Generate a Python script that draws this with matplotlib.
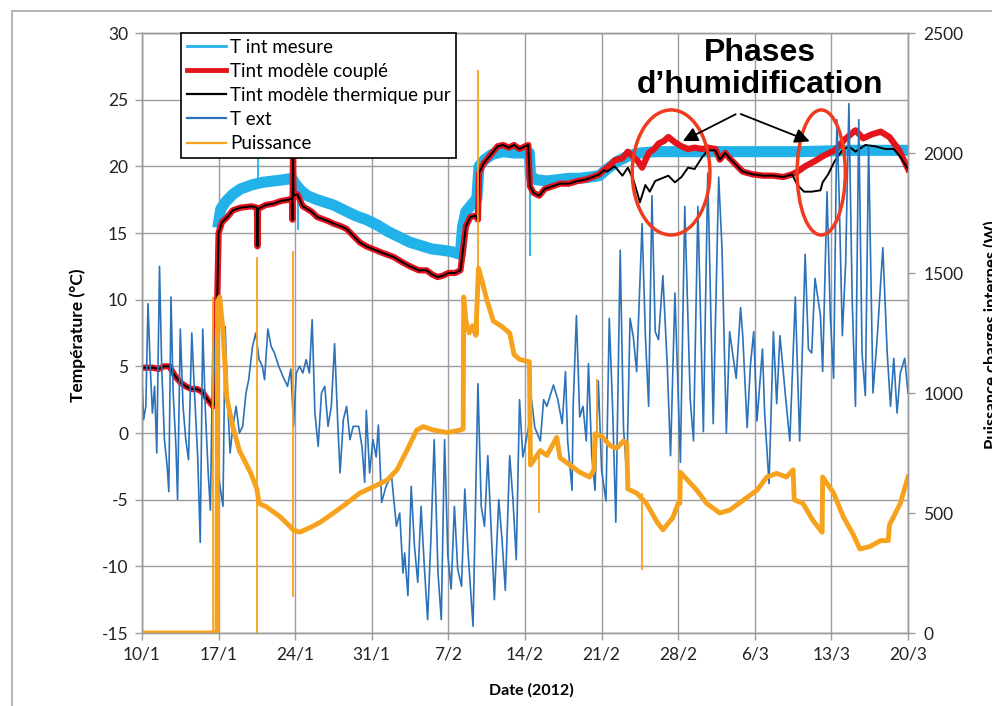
import matplotlib
matplotlib.use("Agg")
import matplotlib.pyplot as plt
from matplotlib.lines import Line2D
from matplotlib.patches import Ellipse, Rectangle

# jours comptés depuis le 10/1/2012
x_ticks = [0, 7, 14, 21, 28, 35, 42, 49, 56, 63, 70]
x_labels = ["10/1", "17/1", "24/1", "31/1", "7/2", "14/2", "21/2", "28/2", "6/3", "13/3", "20/3"]

tint_mesure_j = [7.0, 7.2, 7.6, 8.3, 9.0, 10.0, 11.0, 12.0, 13.0, 13.7, 14.0, 14.5, 15.1, 16.0,
                 17.5, 18.5, 19.5, 20.5, 21.5, 22.5, 23.5, 24.5, 25.7, 26.5, 27.5, 28.3, 29.1,
                 29.3, 29.6, 30.0, 30.6, 30.8, 31.3, 32.0, 33.0, 34.0, 35.0, 35.4, 35.5, 36.0,
                 37.0, 38.0, 39.0, 40.0, 41.0, 41.8, 42.5, 43.5, 44.5, 45.5, 47.0, 50.0, 55.0,
                 60.0, 65.0, 70.0]
tint_mesure = [15.8, 16.8, 17.3, 17.9, 18.3, 18.6, 18.8, 18.9, 19.0, 19.1, 18.7, 18.2, 17.8, 17.5,
               17.1, 16.7, 16.3, 16.0, 15.6, 15.1, 14.7, 14.3, 14.0, 13.8, 13.7, 13.6, 13.4,
               15.5, 16.6, 17.0, 17.6, 20.0, 20.5, 20.9, 21.1, 21.0, 21.0, 21.0, 19.3, 19.0,
               18.9, 19.0, 19.1, 19.1, 19.2, 19.3, 19.8, 20.4, 20.8, 21.0, 21.1, 21.1, 21.1,
               21.1, 21.2, 21.2]
# pics ponctuels de la mesure
tint_pic_j = [10.6, 14.25, 35.45]
tint_pic_bas = [18.6, 15.2, 13.3]
tint_pic_haut = [20.6, 18.4, 21.0]

tint_pur_j = [0.0, 1.0, 1.5, 2.0, 2.5, 3.0, 3.5, 4.0, 4.5, 5.0, 5.5, 6.0, 6.5, 6.7, 6.85, 7.0,
              7.3, 7.8, 8.3, 9.0, 10.0, 10.5, 10.55, 10.6, 11.3, 12.0, 12.7, 13.4, 13.7, 13.75,
              13.8, 13.85, 14.2, 14.7, 15.5, 16.0, 17.0, 17.5, 18.2, 18.7, 19.3, 19.9, 20.5,
              21.1, 22.0, 23.0, 23.8, 24.5, 25.3, 26.0, 26.5, 27.0, 27.5, 28.0, 28.6, 29.1,
              29.3, 29.6, 30.0, 30.5, 30.7, 30.8, 31.2, 31.6, 32.0, 32.5, 33.0, 33.5, 34.0,
              34.5, 35.0, 35.3, 35.45, 35.8, 36.3, 36.8, 37.5, 38.2, 39.0, 39.8, 40.5, 41.2,
              41.8, 42.2, 42.5, 43.2, 43.9, 44.4, 44.9, 45.3, 45.5, 46.0, 46.4, 46.9, 47.5,
              48.1, 48.7, 49.3, 49.9, 50.5, 51.2, 51.7, 52.4, 52.8, 53.3, 53.7, 54.3, 54.9,
              55.8, 56.8, 57.7, 58.6, 59.4, 59.9, 60.5, 61.2, 62.0, 62.2, 62.7, 63.3, 64.0,
              64.6, 65.2, 66.1, 67.0, 67.9, 68.7, 69.3, 70.0]
tint_pur = [4.9, 4.9, 4.8, 5.0, 5.0, 4.3, 3.8, 3.5, 3.3, 3.3, 3.1, 2.5, 2.0, 2.3, 9.0, 15.0,
            15.8, 16.2, 16.7, 16.9, 17.0, 16.9, 14.0, 16.8, 17.1, 17.2, 17.4, 17.5, 17.6, 16.0,
            21.0, 17.8, 17.9, 17.0, 16.6, 16.2, 15.9, 15.7, 15.5, 15.3, 14.8, 14.3, 14.0,
            13.8, 13.5, 13.2, 12.8, 12.5, 12.2, 12.2, 11.9, 11.7, 11.8, 12.0, 12.0, 12.2,
            13.5, 15.5, 16.2, 16.3, 16.0, 19.5, 20.2, 20.6, 21.0, 21.5, 21.6, 21.4, 21.6,
            21.3, 21.5, 21.6, 18.5, 18.0, 17.8, 18.3, 18.5, 18.7, 18.7, 18.9, 19.0, 19.2,
            19.4, 19.7, 19.6, 20.0, 19.3, 19.9, 19.0, 17.9, 17.3, 18.6, 18.1, 18.9, 19.1,
            19.3, 18.8, 19.2, 19.9, 19.8, 20.7, 21.2, 21.2, 20.5, 21.0, 20.6, 20.1, 19.6,
            19.4, 19.3, 19.3, 19.2, 19.4, 18.6, 18.1, 18.1, 18.2, 18.8, 19.4, 20.4, 21.2,
            21.5, 21.1, 21.6, 21.5, 21.3, 21.3, 20.7, 19.8]

tint_couple_j = tint_pur_j[:84] + [42.8, 43.2, 43.9, 44.4, 44.9, 45.3, 45.7, 46.3, 46.8, 47.2,
                                   47.7, 48.1, 48.7, 49.3, 49.9, 50.5, 51.2, 51.7, 52.4, 52.8,
                                   53.3, 53.7, 54.3, 54.9, 55.8, 56.8, 57.7, 58.6, 59.4, 59.9,
                                   60.6, 61.5, 62.3, 63.3, 64.2, 65.2, 65.9, 66.7, 67.5, 68.3,
                                   69.2, 70.0]
tint_couple = tint_pur[:84] + [20.1, 20.45, 20.6, 21.1, 20.7, 20.4, 19.9, 21.0, 21.3, 21.7,
                               21.9, 22.2, 21.8, 21.5, 21.3, 21.4, 21.3, 21.4, 21.3, 20.5,
                               21.0, 20.6, 20.1, 19.6, 19.4, 19.3, 19.3, 19.2, 19.4, 19.6,
                               20.0, 20.4, 20.8, 21.2, 22.0, 22.7, 22.1, 22.4, 22.6, 22.2,
                               21.2, 19.8]

text_j = [0.0, 0.15, 0.35, 0.55, 0.75, 0.95, 1.15, 1.35, 1.6, 1.8, 2.05, 2.3, 2.45, 2.65, 2.85,
          3.1, 3.25, 3.5, 3.75, 4.0, 4.25, 4.55, 4.8, 5.1, 5.32, 5.55, 5.8, 6.05, 6.25, 6.5,
          6.75, 6.95, 7.4, 7.6, 7.85, 8.05, 8.3, 8.6, 8.9, 9.2, 9.5, 9.75, 10.1, 10.4, 10.7,
          11.0, 11.2, 11.5, 11.8, 12.1, 12.5, 12.9, 13.3, 13.6, 13.85, 14.1, 14.4, 14.7, 15.0,
          15.3, 15.55, 15.8, 16.1, 16.4, 16.7, 17.0, 17.3, 17.6, 17.9, 18.1, 18.4, 18.7, 19.0,
          19.3, 19.8, 20.1, 20.35, 20.5, 20.8, 21.1, 21.4, 21.6, 21.9, 22.3, 22.8, 23.25,
          23.55, 23.85, 24.0, 24.3, 24.6, 24.9, 25.2, 25.5, 25.8, 26.1, 26.4, 26.7, 27.05,
          27.35, 27.65, 27.95, 28.25, 28.55, 28.85, 29.2, 29.5, 29.8, 30.25, 30.7, 31.0,
          31.3, 31.6, 32.2, 32.6, 32.9, 33.2, 33.6, 33.9, 34.2, 34.5, 34.8, 35.0, 35.3, 35.6,
          35.9, 36.4, 36.7, 37.0, 37.6, 38.0, 38.4, 38.7, 38.9, 39.3, 39.4, 39.7, 40.0, 40.3,
          40.6, 40.8, 41.1, 41.4, 41.7, 42.0, 42.4, 42.7, 43.0, 43.3, 43.7, 44.0, 44.3, 44.6,
          44.9, 45.2, 45.7, 46.0, 46.3, 46.6, 46.9, 47.2, 47.6, 48.0, 48.3, 48.7, 49.2, 49.6,
          50.1, 50.4, 50.8, 51.3, 51.7, 52.2, 52.7, 53.0, 53.4, 53.7, 54.0, 54.3, 54.7, 54.9,
          55.3, 55.6, 55.9, 56.2, 56.7, 56.9, 57.3, 57.7, 58.0, 58.3, 58.8, 59.2, 59.7, 60.1,
          60.6, 60.9, 61.2, 61.5, 62.0, 62.2, 62.6, 62.9, 63.2, 63.5, 63.7, 64.0, 64.3, 64.6,
          64.9, 65.2, 65.5, 65.8, 66.1, 66.4, 66.8, 67.2, 67.7, 68.1, 68.4, 68.7, 69.0, 69.3,
          69.7, 70.0]
text = [4.0, 1.0, 2.0, 9.7, 5.0, 1.5, 3.5, -1.5, 12.5, 5.0, -0.5, -2.5, -4.4, 10.2, 3.0,
        -1.0, -5.0, 7.8, 2.0, -0.5, -2.0, 7.5, 3.0, -2.0, -8.2, 7.8, 1.5, -3.0, -5.8, 8.0,
        3.0, -3.0, -5.5, 8.0, 2.0, -1.5, 0.5, 2.0, 0.0, 0.5, 3.0, 4.0, 6.5, 7.5, 5.5,
        5.0, 4.0, 7.8, 6.5, 6.0, 5.0, 4.2, 3.5, 4.8, 0.5, 4.5, 5.0, 4.5, 5.5,
        4.5, 8.5, 1.5, -1.0, 3.0, 3.5, 0.5, 2.0, 6.7, 0.5, -3.0, 1.0, 2.0, -0.5,
        0.5, 0.5, -1.0, -3.7, 1.7, -3.0, -0.5, -1.8, 0.6, -5.2, -4.0, -3.2, -7.0,
        -6.0, -10.5, -9.0, -12.2, -4.0, -8.5, -11.2, -5.5, -10.0, -14.0, -8.0, -0.5, -10.5,
        -14.0, -0.5, -9.2, -11.7, -5.5, -10.2, -11.5, -4.2, -9.0, -14.5, 3.7, -5.5,
        -7.0, -1.7, -12.5, -5.0, -8.0, -11.8, -1.7, -5.0, -9.5, 2.5, -1.8, -1.0, 0.3, 2.5,
        0.4, -0.6, 2.5, 2.0, 3.6, 2.5, 0.7, 4.6, -0.6, -4.3, 2.0, 8.8, 1.2, 2.0,
        -0.6, 5.2, -1.7, -4.3, 3.9, -2.8, -5.1, 8.6, 2.0, -6.7, 13.7, 0.4, -3.2, 8.6,
        7.2, 4.6, 15.7, 7.3, 2.0, 17.8, 7.6, 7.0, 11.8, 5.1, -1.7, 10.5, -2.2, 17.0,
        2.5, -0.6, 17.0, 0.1, 19.5, 0.7, 19.2, 13.9, 0.0, 7.6, 5.8, 4.1, 9.4, 7.3,
        0.4, 5.1, 7.6, 0.9, 6.3, 1.5, -3.8, 7.6, 2.2, 7.3, 2.8, -0.6, 10.2, -0.6,
        13.4, 6.3, 6.0, 11.6, 8.8, 4.6, 18.1, 8.8, 4.1, 23.5, 18.0, 7.3, 12.7, 24.7,
        10.0, 2.0, 23.5, 6.0, 2.8, 21.5, 3.0, 7.3, 13.9, 6.0, 2.0, 5.6, 1.5, 4.5,
        5.6, 3.0]

puissance_j = [0.0, 6.85, 6.9, 7.1, 7.4, 7.75, 8.3, 8.9, 9.9, 10.5, 10.7, 11.4, 12.6, 13.5,
               13.8, 14.4, 15.4, 16.3, 17.5, 18.7, 19.9, 21.1, 22.4, 23.3, 24.2, 25.1, 25.7,
               26.6, 27.9, 29.1, 29.35, 29.4, 29.6, 29.9, 30.2, 30.5, 30.6, 30.75, 31.0, 31.5,
               32.1, 32.8, 33.6, 34.0, 34.5, 35.4, 35.5, 35.8, 36.4, 37.0, 37.9, 38.2, 39.1,
               40.0, 40.9, 41.3, 41.4, 42.0, 42.8, 43.4, 44.0, 44.3, 44.4, 45.2, 46.1, 47.1,
               47.6, 48.5, 49.0, 49.15, 49.2, 49.8, 50.7, 51.6, 52.8, 53.7, 55.0, 56.2, 57.1,
               58.0, 58.9, 59.5, 59.6, 60.4, 61.3, 62.15, 62.2, 63.2, 64.1, 65.0, 65.6, 66.5,
               67.5, 68.2, 68.3, 69.3, 70.0]
puissance = [0, 0, 1380, 1400, 1260, 980, 860, 760, 670, 600, 540, 525, 485, 445,
             430, 420, 440, 462, 500, 540, 583, 608, 637, 680, 760, 845, 860,
             846, 835, 846, 850, 1400, 1300, 1250, 1280, 1240, 1350, 1520, 1480, 1390,
             1300, 1280, 1250, 1160, 1140, 1130, 700, 720, 760, 740, 815, 730, 700,
             670, 650, 680, 830, 820, 780, 770, 800, 790, 600, 583, 540, 460,
             430, 480, 540, 540, 670, 640, 595, 540, 500, 512, 555, 595, 650,
             665, 650, 680, 555, 540, 470, 420, 650, 583, 483, 410, 350, 360,
             385, 385, 450, 540, 650]
# pics brefs de la puissance
pic_j = [6.5, 6.8, 10.55, 13.8, 30.7, 36.3, 41.6, 45.7]
pic_bas = [0, 0, 0, 150, 1240, 500, 830, 262]
pic_haut = [1400, 1350, 1565, 1590, 2345, 760, 1060, 583]

c_mesure = "#22B2EA"
c_couple = "#E3141C"
c_pur = "#000000"
c_ext = "#2C72BA"
c_puiss = "#F7A21C"
c_grid = "#9C9C9C"

plt.rcParams["font.family"] = ["Lato", "DejaVu Sans"]
plt.rcParams["axes.unicode_minus"] = False

fig = plt.figure(figsize=(9.92, 7.06), dpi=100)
ax = fig.add_axes([142 / 992, 1 - 633 / 706, 766 / 992, 600 / 706])
ax2 = ax.twinx()

ax.plot(tint_mesure_j, tint_mesure, color=c_mesure, lw=8, solid_joinstyle="round", zorder=2)
ax.vlines(tint_pic_j, tint_pic_bas, tint_pic_haut, color=c_mesure, lw=1.3, zorder=2)
ax.plot(tint_couple_j, tint_couple, color=c_couple, lw=4.5, zorder=3)
ax.plot(tint_pur_j, tint_pur, color=c_pur, lw=1.4, zorder=4)
ax.plot(text_j, text, color=c_ext, lw=1.2, zorder=5)

ax2.plot(puissance_j, puissance, color=c_puiss, lw=3.5, zorder=2)
ax2.vlines(pic_j, pic_bas, pic_haut, color=c_puiss, lw=1.3, zorder=2)

ax.set_xlim(0, 70)
ax.set_ylim(-15, 30)
ax2.set_ylim(0, 2500)
ax.set_xticks(x_ticks)
ax.set_xticklabels(x_labels)
ax.set_yticks(range(-15, 31, 5))
ax2.set_yticks(range(0, 2501, 500))

ax.set_axisbelow(True)
ax.grid(True, color=c_grid, lw=1.0)
for a in (ax, ax2):
    for sp in a.spines.values():
        sp.set_color(c_grid)
        sp.set_linewidth(1.0)
    a.tick_params(length=5, width=1.0, color=c_grid, labelsize=12.5, labelcolor="#222222")
ax.tick_params(axis="y", pad=5)
ax.tick_params(axis="x", pad=5)
ax2.tick_params(axis="y", pad=6)

fig.text(78 / 992, 1 - 335 / 706, "Température (°C)", rotation=90, ha="center", va="center",
         fontsize=12.5, fontweight="bold")
fig.text(531 / 992, 1 - 690 / 706, "Date (2012)", ha="center", va="center",
         fontsize=11.5, fontweight="bold")
fig.text(983 / 992, 1 - 335 / 706, "Puissance charges internes (W)", rotation=90, ha="left",
         va="center", fontsize=12, fontweight="bold")

handles = [Line2D([], [], color=c_mesure, lw=2),
           Line2D([], [], color=c_couple, lw=3.5),
           Line2D([], [], color=c_pur, lw=1.6),
           Line2D([], [], color=c_ext, lw=1.6),
           Line2D([], [], color=c_puiss, lw=1.6)]
labels = ["T int mesure", "Tint modèle couplé", "Tint modèle thermique pur", "T ext", "Puissance"]
leg = ax2.legend(handles, labels, loc="upper left", bbox_to_anchor=(0.051, 1.0),
                 borderaxespad=0, fontsize=13.5, frameon=True, fancybox=False,
                 edgecolor="#000000", framealpha=1, handlelength=2.1, handletextpad=0.2,
                 labelspacing=0.38, borderpad=0.3)
leg.get_frame().set_linewidth(1.2)
leg.set_zorder(10)

# phases d'humidification
for xc, w in [(48.35, 7.1), (62.07, 4.4)]:
    ax2.add_patch(Ellipse((xc, 19.54), w, 9.38, transform=ax.transData, fill=False,
                          edgecolor="#F03C1E", lw=2.5, zorder=6))
ax2.text(56.5, 27.3, "Phases\nd’humidification", transform=ax.transData, ha="center",
         va="center", fontsize=23, fontweight="bold", family="Liberation Sans",
         linespacing=1.05, zorder=7)
for xh in (49.2, 61.25):
    ax2.annotate("", xy=(xh, 21.8), xytext=(54.48, 24.0), xycoords=ax.transData,
                 textcoords=ax.transData,
                 arrowprops=dict(arrowstyle="-|>", color="black", lw=1.3, mutation_scale=22),
                 zorder=7)

fig.add_artist(Rectangle((12 / 992, -0.1), 1.2, 1.1 - 11 / 706, transform=fig.transFigure,
                         fill=False, edgecolor="#A8A8A8", lw=1.2))

fig.savefig("out.png", dpi=100)
